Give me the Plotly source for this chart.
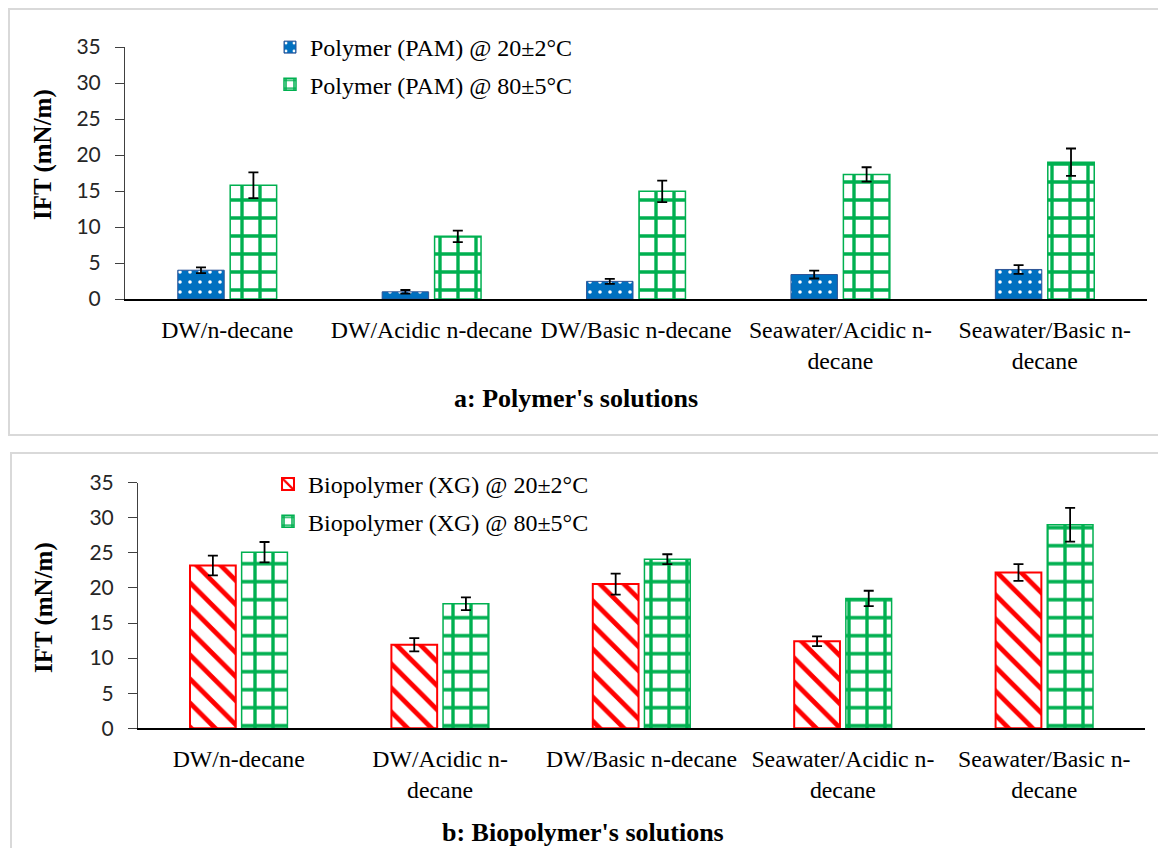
import plotly.graph_objects as go

# ---------------- data ----------------
cats_a = ["DW/n-decane", "DW/Acidic n-decane", "DW/Basic n-decane",
          "Seawater/Acidic n-<br>decane", "Seawater/Basic n-<br>decane"]
cats_b = ["DW/n-decane", "DW/Acidic n-<br>decane", "DW/Basic n-decane",
          "Seawater/Acidic n-<br>decane", "Seawater/Basic n-<br>decane"]
keys = ["c1", "c2", "c3", "c4", "c5"]

pam_20 = [4.0, 1.0, 2.45, 3.4, 4.1]
pam_20_err = [0.4, 0.25, 0.35, 0.55, 0.6]
pam_80 = [15.8, 8.7, 14.95, 17.3, 19.0]
pam_80_err = [1.8, 0.8, 1.5, 1.0, 1.9]

xg_20 = [23.2, 11.9, 20.55, 12.4, 22.2]
xg_20_err = [1.4, 0.95, 1.5, 0.7, 1.2]
xg_80 = [25.1, 17.75, 24.1, 18.5, 29.0]
xg_80_err = [1.45, 0.9, 0.7, 1.1, 2.4]

y_ticks = [0, 5, 10, 15, 20, 25, 30, 35]

# page body has an 8px margin, so the figure is sized to fit inside the window
OFF = 8
W, H = 1166 - OFF, 848 - OFF
BLUE, GREEN, RED = "#0070C0", "#00B050", "#FF0000"
SERIF = "Liberation Serif"
SANS = "Lato"

def px_x(p):
    return (p - OFF) / W

def px_y(p):
    return 1 - (p - OFF) / H

def err(vals):
    return dict(type="data", array=vals, visible=True, color="black",
                thickness=1.8, width=5)

green_pattern = dict(shape="+", fgcolor=GREEN, bgcolor="white", fgopacity=1,
                     size=18, solidity=0.34)

fig = go.Figure()

fig.add_trace(go.Bar(
    x=keys, y=pam_20, name="Polymer (PAM) @ 20±2°C", xaxis="x", yaxis="y",
    marker=dict(color=BLUE, line=dict(color="#2F5597", width=1),
                pattern=dict(shape=".", fgcolor="white", fgopacity=1, size=10, solidity=0.1)),
    error_y=err(pam_20_err), legend="legend", legendgroup="a1"))
fig.add_trace(go.Bar(
    x=keys, y=pam_80, name="Polymer (PAM) @ 80±5°C", xaxis="x", yaxis="y",
    marker=dict(color="white", line=dict(color=GREEN, width=1.5), pattern=green_pattern),
    error_y=err(pam_80_err), legend="legend", legendgroup="a2"))
fig.add_trace(go.Bar(
    x=keys, y=xg_20, name="Biopolymer (XG) @ 20±2°C", xaxis="x2", yaxis="y2",
    marker=dict(color="white", line=dict(color=RED, width=2),
                pattern=dict(shape="\\", fgcolor=RED, bgcolor="white", fgopacity=1,
                             size=17, solidity=0.28)),
    error_y=err(xg_20_err), legend="legend2", legendgroup="b1"))
fig.add_trace(go.Bar(
    x=keys, y=xg_80, name="Biopolymer (XG) @ 80±5°C", xaxis="x2", yaxis="y2",
    marker=dict(color="white", line=dict(color=GREEN, width=1.5), pattern=green_pattern),
    error_y=err(xg_80_err), legend="legend2", legendgroup="b2"))

xaxis_common = dict(type="category", showline=True, linecolor="black", linewidth=2,
                    ticks="", showgrid=False, zeroline=False, automargin=False,
                    tickangle=0,
                    tickfont=dict(family=SERIF, size=23.8, color="black"),
                    ticklabelstandoff=8, fixedrange=True)
yaxis_common = dict(range=[0, 35], tickvals=y_ticks, showline=True, linecolor="#404040",
                    linewidth=1, ticks="outside", ticklen=9, tickcolor="#404040",
                    showgrid=False, zeroline=False, automargin=False,
                    ticklabelstandoff=10,
                    tickfont=dict(family=SANS, size=21, color="#262626"), fixedrange=True)

legend_common = dict(xanchor="left", yanchor="top",
                     font=dict(family=SERIF, size=24, color="black"),
                     bgcolor="rgba(0,0,0,0)", tracegroupgap=3, traceorder="grouped",
                     itemwidth=30)

fig.update_layout(
    width=W, height=H, autosize=False, margin=dict(l=0, r=0, t=0, b=0, autoexpand=False),
    paper_bgcolor="white", plot_bgcolor="white",
    barmode="group", bargap=0.487, bargroupgap=0.114,
    xaxis=dict(domain=[px_x(125), px_x(1147)], anchor="y",
               tickvals=keys, ticktext=cats_a, **xaxis_common),
    yaxis=dict(domain=[px_y(299), px_y(47)], anchor="x", **yaxis_common),
    xaxis2=dict(domain=[px_x(138), px_x(1145)], anchor="y2",
                tickvals=keys, ticktext=cats_b, **xaxis_common),
    yaxis2=dict(domain=[px_y(728.3), px_y(482.7)], anchor="x2", **yaxis_common),
    legend=dict(x=px_x(270), y=px_y(25), **legend_common),
    legend2=dict(x=px_x(268), y=px_y(462), **legend_common),
    showlegend=True,
    shapes=[
        dict(type="rect", xref="paper", yref="paper", x0=px_x(9), x1=1.01,
             y0=px_y(435), y1=px_y(9), line=dict(color="#D9D9D9", width=2), layer="below"),
        dict(type="rect", xref="paper", yref="paper", x0=px_x(11), x1=1.01,
             y0=-0.01, y1=px_y(453), line=dict(color="#D9D9D9", width=2), layer="below"),
    ],
    annotations=[
        dict(text="<b>IFT (mN/m)</b>", xref="paper", yref="paper", x=px_x(43), y=px_y(155),
             xanchor="center", yanchor="middle",
             textangle=-90, showarrow=False, font=dict(family=SERIF, size=25, color="black")),
        dict(text="<b>IFT (mN/m)</b>", xref="paper", yref="paper", x=px_x(44), y=px_y(608),
             xanchor="center", yanchor="middle",
             textangle=-90, showarrow=False, font=dict(family=SERIF, size=25, color="black")),
        dict(text="<b>a: Polymer's solutions</b>", xref="paper", yref="paper",
             x=px_x(576), y=px_y(398), xanchor="center", yanchor="middle", showarrow=False,
             font=dict(family=SERIF, size=26, color="black")),
        dict(text="<b>b: Biopolymer's solutions</b>", xref="paper", yref="paper",
             x=px_x(583), y=px_y(832), xanchor="center", yanchor="middle", showarrow=False,
             font=dict(family=SERIF, size=26, color="black")),
    ],
)

fig.write_html("out.html")
